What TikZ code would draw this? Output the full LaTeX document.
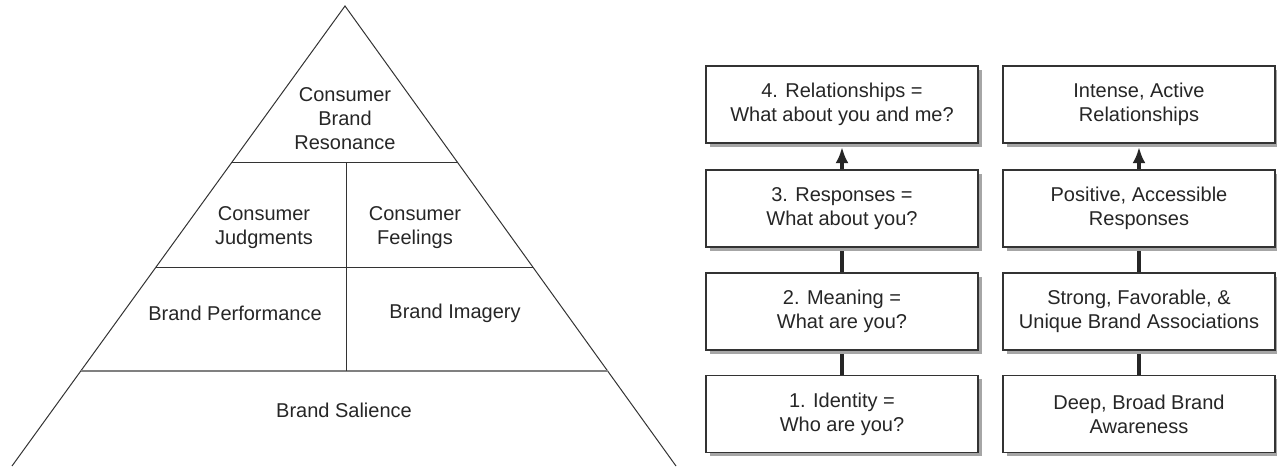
\documentclass[tikz,border=0pt]{standalone}
\usepackage{fontspec}
\setmainfont{Liberation Sans}
\usetikzlibrary{arrows.meta,shadows,calc}
\begin{document}
\begin{tikzpicture}[x=1pt,y=-1pt,
  lbl/.style={align=center,font=\fontsize{20}{24}\selectfont,text=black!85,inner sep=0pt},
  pyr/.style={draw=black!80,line width=1pt},
  levelbox/.style={draw=black!80,line width=1.3pt,fill=white,minimum width=272pt,minimum height=77pt,
    align=center,font=\fontsize{20}{24}\selectfont,text=black!85,inner sep=0pt,
    drop shadow={shadow xshift=3.5pt,shadow yshift=-3.5pt,fill=black!35,opacity=1}},
  link/.style={line width=4.5pt,draw=black!85,shorten >=3.5pt},
  uptip/.style={-{Latex[length=16pt,width=13pt]}},
]
\useasboundingbox (0,0) rectangle (1277,466);
% pyramid
\coordinate (apex) at (345,6);
\coordinate (bl) at (12,466);
\coordinate (br) at (676,466);
\draw[pyr] (bl) -- (apex) -- (br);
\draw[pyr] ($(apex)!0.3413!(bl)$) -- ($(apex)!0.3413!(br)$);
\draw[pyr] ($(apex)!0.5674!(bl)$) -- ($(apex)!0.5674!(br)$);
\draw[draw=black!50,line width=2pt] ($(apex)!0.7935!(bl)$) -- ($(apex)!0.7935!(br)$);
\coordinate (vtop) at (346,163);
\coordinate (vbot) at (346,371);
\draw[pyr] (vtop) -- (vbot);
\node[lbl] (res) at (345,119) {Consumer\\Brand\\Resonance};
\node[lbl] (judg) at (264,228) {Consumer\\Judgments};
\node[lbl] (feel) at (415,228) {Consumer\\Feelings};
\node[lbl] (perf) at (235,313) {Brand Performance};
\node[lbl] (imag) at (455,313) {Brand Imagery};
\node[lbl] (sal) at (344,410) {Brand Salience};
% left column
\node[levelbox] (l4) at (842,104.5) {4. Relationships =\\What about you and me?};
\node[levelbox] (l3) at (842,208.5) {3. Responses =\\What about you?};
\node[levelbox] (l2) at (842,311.5) {2. Meaning =\\What are you?};
\node[levelbox] (l1) at (842,414) {1. Identity =\\Who are you?};
% right column
\node[levelbox] (r4) at (1139,104.5) {Intense, Active\\Relationships};
\node[levelbox] (r3) at (1139,208.5) {Positive, Accessible\\Responses};
\node[levelbox] (r2) at (1139,311.5) {Strong, Favorable, \&\\Unique Brand Associations};
\node[levelbox] (r1) at (1139,414) {Deep, Broad Brand\\Awareness};
% connectors
\draw[link,uptip] (l3.north) -- (l4.south);
\draw[link] (l2.north) -- (l3.south);
\draw[link] (l1.north) -- (l2.south);
\draw[link,uptip] (r3.north) -- (r4.south);
\draw[link] (r2.north) -- (r3.south);
\draw[link] (r1.north) -- (r2.south);
\end{tikzpicture}
\end{document}
